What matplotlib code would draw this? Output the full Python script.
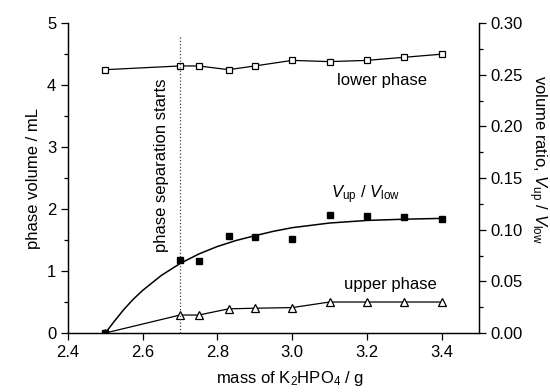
import matplotlib.pyplot as plt
from matplotlib.ticker import MultipleLocator

plt.rcParams['font.family'] = ['Liberation Sans', 'DejaVu Sans']
plt.rcParams['mathtext.fontset'] = 'custom'
plt.rcParams['mathtext.rm'] = 'Liberation Sans'
plt.rcParams['mathtext.it'] = 'Liberation Sans:italic'

# masse de K2HPO4 (g)
mass = [2.5, 2.7, 2.75, 2.83, 2.9, 3.0, 3.1, 3.2, 3.3, 3.4]
lower_phase = [4.25, 4.31, 4.31, 4.25, 4.31, 4.40, 4.38, 4.40, 4.45, 4.50]
upper_phase = [0.0, 0.29, 0.29, 0.39, 0.40, 0.41, 0.50, 0.50, 0.50, 0.50]
ratio = [0.0, 0.0706, 0.0697, 0.0939, 0.0929, 0.091, 0.114, 0.113, 0.112, 0.110]

# courbe d'ajustement
fit_mass = [2.5, 2.525, 2.55, 2.575, 2.6, 2.65, 2.7, 2.75, 2.8, 2.85, 2.9,
            2.95, 3.0, 3.1, 3.2, 3.3, 3.4]
fit_ratio = [0.0, 0.0118, 0.0230, 0.0328, 0.0413, 0.0558, 0.0673, 0.0765,
             0.0838, 0.0896, 0.0942, 0.0985, 0.1020, 0.1065, 0.1090, 0.1102, 0.1110]

separation_mass = 2.7

fig = plt.figure(figsize=(5.5, 3.92), dpi=100)
ax = fig.add_axes([0.1236, 0.1505, 0.7473, 0.7903])
ax2 = ax.twinx()

ax.plot(mass, lower_phase, color='black', lw=0.9, marker='s', ms=4.5,
        mfc='white', mec='black', mew=0.9)
ax.plot(mass, upper_phase, color='black', lw=0.9, marker='^', ms=6,
        mfc='white', mec='black', mew=0.9)
ax.plot([separation_mass, separation_mass], [0, 4.8], color='#444444',
        lw=0.9, linestyle=':')

ax2.plot(fit_mass, fit_ratio, color='black', lw=1.1)
ax2.plot(mass, ratio, linestyle='none', marker='s', ms=5, color='black')

ax.set_xlim(2.4, 3.5)
ax.set_ylim(0, 5)
ax2.set_ylim(0, 0.30)

ax.xaxis.set_major_locator(MultipleLocator(0.2))
ax.yaxis.set_major_locator(MultipleLocator(1))
ax.yaxis.set_minor_locator(MultipleLocator(0.5))
ax2.yaxis.set_major_locator(MultipleLocator(0.05))
ax2.yaxis.set_minor_locator(MultipleLocator(0.025))
ax2.yaxis.set_major_formatter(plt.FuncFormatter(lambda v, p: f"{v:.2f}"))

for a in (ax, ax2):
    a.spines['top'].set_visible(False)
    a.tick_params(which='major', direction='out', length=5, width=0.9,
                  labelsize=12)
    a.tick_params(which='minor', direction='out', length=3, width=0.9)
    for s in a.spines.values():
        s.set_linewidth(0.9)
ax.xaxis.set_major_formatter(plt.FuncFormatter(lambda v, p: f"{v:.1f}"))

ax.set_ylabel("phase volume / mL", fontsize=12)
ax.set_xlabel("mass of K$_2$HPO$_4$ / g", fontsize=12)
ax.xaxis.set_label_coords(0.54, -0.115)
ax2.set_ylabel("volume ratio, $V_{\\rm up}$ / $V_{\\rm low}$", fontsize=12,
               rotation=270, va='center')
ax2.yaxis.set_label_coords(1.143, 0.56)

ax.text(3.24, 4.08, "lower phase", fontsize=12, ha='center', va='center')
ax.text(3.263, 0.79, "upper phase", fontsize=12, ha='center', va='center')
ax.text(3.196, 2.24, "$V_{\\rm up}$ / $V_{\\rm low}$", fontsize=12,
        ha='center', va='center')
ax.text(2.65, 2.7, "phase separation starts", fontsize=12, rotation=90,
        ha='center', va='center')

fig.savefig("out.png", dpi=100)
